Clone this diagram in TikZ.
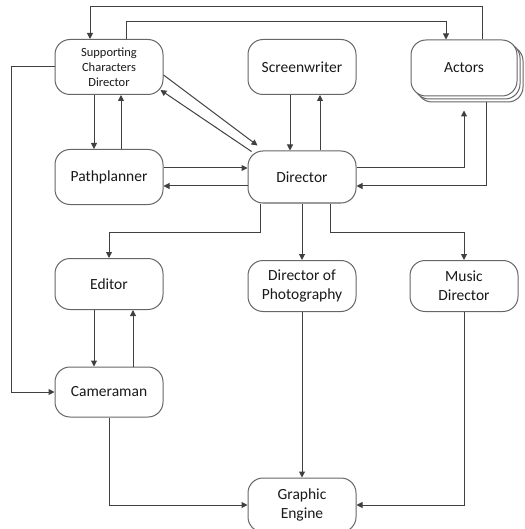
\documentclass[tikz,border=0pt]{standalone}
\usepackage{fontspec}
\setmainfont{Carlito}
\usetikzlibrary{arrows.meta,shadows}

\begin{document}
\begin{tikzpicture}[x=1pt,y=-1pt,
    box/.style={draw=black!60,line width=1pt,rounded corners=15pt,fill=white,
      minimum width=108pt,minimum height=53pt,inner sep=0pt,align=center,
      text=black!90,font=\fontsize{15.5}{19}\selectfont},
    arr/.style={draw=black!75,line width=1pt,-{Triangle[length=6pt,width=6pt]}}]
    \useasboundingbox (0,0) rectangle (524,529);
    %% boxes
    \node[box,minimum height=55pt,font=\fontsize{12.5}{15}\selectfont] (scd) at (109,67) {Supporting\\Characters\\Director};
    \node[box,minimum height=55pt] (screen) at (302,67) {Screenwriter};
    \node[box,minimum width=106pt,minimum height=56pt,
      double copy shadow={shadow xshift=3pt,shadow yshift=-3pt,draw=black!60,fill=white}] (actors) at (464,68) {Actors};
    \node[box,minimum height=55pt] (path) at (109,177) {Pathplanner};
    \node[box,minimum height=52pt] (dir) at (302,177) {Director};
    \node[box,minimum height=51pt] (editor) at (109,284) {Editor};
    \node[box,minimum height=51pt] (dop) at (302,286) {Director of\\Photography};
    \node[box,minimum height=51pt] (music) at (464,286) {Music\\Director};
    \node[box,minimum height=50pt] (cam) at (109,392) {Cameraman};
    \node[box,minimum height=54pt] (engine) at (302,505) {Graphic\\Engine};
    %% top loops
    \draw[arr] ([xshift=18pt]actors.north) -- ++(0,-33) -| ([xshift=-19pt]scd.north) ;
    \draw[arr] ([xshift=17pt]scd.north) -- ++(0,-17) -| ([xshift=-18pt]actors.north) ;
    %% supporting characters director
    \draw[arr] ([xshift=-15pt]scd.south) -- ([xshift=-15pt]path.north) ;
    \draw[arr] ([xshift=12pt]path.north) -- ([xshift=12pt]scd.south) ;
    \draw[arr] ([yshift=-8pt]scd.east) -- ([shift={(10,-5)}]dir.north west) ;
    \draw[arr] ([shift={(4,1)}]dir.north west) -- ([shift={(-3,-5)}]scd.south east) ;
    \draw[arr] (scd.west) -- ++(-43,0) |- (cam.west) ;
    %% director
    \draw[arr] ([yshift=9pt]path.east) -- ([yshift=9pt]dir.west) ;
    \draw[arr] ([yshift=-9pt]dir.west) -- ([yshift=-9pt]path.east) ;
    \draw[arr] ([xshift=-12pt]screen.south) -- ([xshift=-12pt]dir.north) ;
    \draw[arr] ([xshift=18pt]dir.north) -- ([xshift=18pt]screen.south) ;
    \draw[arr] ([yshift=9pt]dir.east) -| ([yshift=-14pt]actors.south) ;
    \draw[arr] ([shift={(22,6)}]actors.south) |- ([yshift=-9pt]dir.east) ;
    \draw[arr] ([xshift=-42pt]dir.south) -- ++(0,29) -| (editor.north) ;
    \draw[arr] (dir.south) -- (dop.north) ;
    \draw[arr] ([xshift=28pt]dir.south) -- ++(0,29) -| (music.north) ;
    %% lower part
    \draw[arr] ([xshift=-15pt]editor.south) -- ([xshift=-15pt]cam.north) ;
    \draw[arr] ([xshift=24pt]cam.north) -- ([xshift=24pt]editor.south) ;
    \draw[arr] (cam.south) |- (engine.west) ;
    \draw[arr] (dop.south) -- (engine.north) ;
    \draw[arr] (music.south) |- (engine.east) ;
\end{tikzpicture}
\end{document}
